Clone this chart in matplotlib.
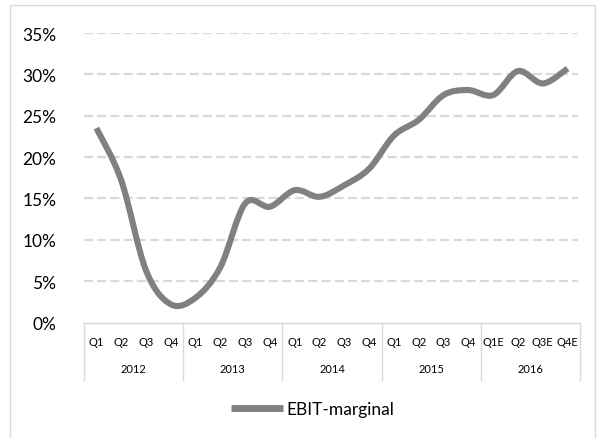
import numpy as np
import matplotlib
matplotlib.use("Agg")
import matplotlib.pyplot as plt
from matplotlib.path import Path
from matplotlib.patches import PathPatch, Rectangle
from matplotlib.lines import Line2D

plt.rcParams['font.family'] = ['Lato', 'DejaVu Sans']
plt.rcParams['lines.scale_dashes'] = False

# data
quarters = ['Q1', 'Q2', 'Q3', 'Q4', 'Q1', 'Q2', 'Q3', 'Q4', 'Q1', 'Q2', 'Q3', 'Q4',
            'Q1', 'Q2', 'Q3', 'Q4', 'Q1E', 'Q2', 'Q3E', 'Q4E']
years = ['2012', '2013', '2014', '2015', '2016']
ebit_margin = [23.5, 17.2, 6.3, 2.2, 3.0, 6.7, 14.4, 14.0, 16.0, 15.2,
               16.6, 18.6, 22.6, 24.5, 27.5, 28.1, 27.5, 30.4, 28.9, 30.7]
y_ticks = [0, 5, 10, 15, 20, 25, 30, 35]
series_name = 'EBIT-marginal'

LINE_GREY = '#808080'
GRID_GREY = '#d9d9d9'


def smooth_path(xs, ys):
    # excel-like smoothed line: cubic beziers through every point
    pts = np.column_stack([xs, ys]).astype(float)
    padded = np.vstack([pts[0], pts, pts[-1]])
    verts = [pts[0]]
    codes = [Path.MOVETO]
    for i in range(len(pts) - 1):
        p0, p1, p2, p3 = padded[i], padded[i + 1], padded[i + 2], padded[i + 3]
        c1 = p1 + (p2 - p0) / 6.0
        c2 = p2 - (p3 - p1) / 6.0
        verts += [c1, c2, p2]
        codes += [Path.CURVE4] * 3
    return Path(verts, codes)


fig = plt.figure(figsize=(6.06, 4.39), dpi=100)
W, H = 606, 439
ax_left, ax_right, ax_top, ax_bottom = 84, 580, 34, 323.5
ax = fig.add_axes([ax_left / W, 1 - ax_bottom / H,
                   (ax_right - ax_left) / W, (ax_bottom - ax_top) / H])

# outer chart border
fig.patches.append(Rectangle((10 / W, -0.05), 585 / W, 1 - 5.5 / H + 0.05,
                             transform=fig.transFigure, fill=False,
                             edgecolor=GRID_GREY, linewidth=1))

x = np.arange(len(ebit_margin))
ax.add_patch(PathPatch(smooth_path(x, ebit_margin), fill=False,
                       edgecolor=LINE_GREY, linewidth=4.4, capstyle='butt',
                       joinstyle='round', zorder=3))

ax.set_xlim(-0.5, len(quarters) - 0.5)
ax.set_ylim(0, 35)
ax.set_yticks(y_ticks)
ax.set_yticklabels([f'{t}%' for t in y_ticks], fontsize=12.5, color='#000000')
ax.tick_params(axis='y', length=0, pad=20)
ax.set_xticks([])

for t in y_ticks[1:]:
    ax.axhline(t, color=GRID_GREY, linewidth=1.6, linestyle=(0, (6.5, 3.0)),
               xmax=0.995, zorder=1)

for s in ['top', 'right', 'left']:
    ax.spines[s].set_visible(False)
ax.spines['bottom'].set_color(GRID_GREY)
ax.spines['bottom'].set_linewidth(1)

# multi level category axis
trans = ax.get_xaxis_transform()
q_y = -(343 - ax_bottom) / (ax_bottom - ax_top)
yr_y = -(370 - ax_bottom) / (ax_bottom - ax_top)
box_bottom = -(381 - ax_bottom) / (ax_bottom - ax_top)
for i, q in enumerate(quarters):
    ax.text(i, q_y, q, transform=trans, ha='center', va='center',
            fontsize=8, clip_on=False)
per_year = len(quarters) // len(years)
for j, yr in enumerate(years):
    ax.text(j * per_year + (per_year - 1) / 2, yr_y, yr, transform=trans,
            ha='center', va='center', fontsize=8, clip_on=False)
for j in range(len(years) + 1):
    ax.add_line(Line2D([j * per_year - 0.5] * 2, [0, box_bottom], transform=trans,
                       color=GRID_GREY, linewidth=1, clip_on=False))

handle = Line2D([], [], color=LINE_GREY, linewidth=5, solid_capstyle='butt')
fig.legend([handle], [series_name], loc='center', bbox_to_anchor=(0.516, 1 - 410 / H),
           frameon=False, fontsize=12.5, handlelength=3.0, handletextpad=0.2)

fig.savefig('out.png', dpi=100)
